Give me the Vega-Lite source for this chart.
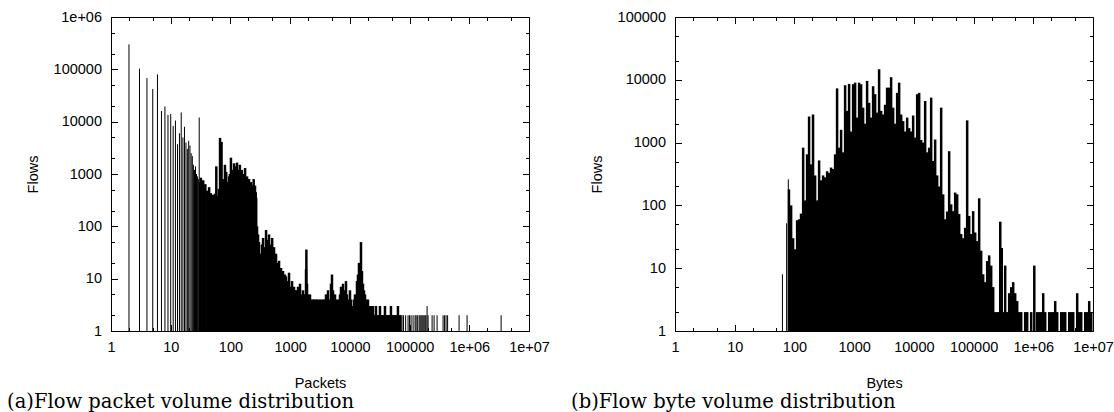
{
  "$schema": "https://vega.github.io/schema/vega-lite/v6.json",
  "background": "white",
  "padding": {"left": 6, "top": 8, "right": 0, "bottom": 0},
  "spacing": 20,
  "config": {
    "view": {"stroke": "black", "strokeWidth": 1},
    "axis": {
      "labelFont": "Liberation Sans", "labelFontSize": 14.5, "labelColor": "black",
      "titleFont": "Liberation Sans", "titleFontSize": 14.5, "titleFontWeight": "normal", "titleColor": "black",
      "tickColor": "black", "domainColor": "black", "grid": false,
      "labelFlush": false, "labelOverlap": false, "labelBound": false
    },
    "title": {"font": "DejaVu Serif", "fontSize": 19.5, "fontWeight": "normal", "color": "black"}
  },
  "datasets": {
    "pkts": [
      {"x":2,"y":300000},{"x":3,"y":103000},{"x":4,"y":68000},{"x":5,"y":42000},{"x":6,"y":80000},{"x":7,"y":16000},{"x":8,"y":19500},{"x":9,"y":13500},{"x":10,"y":14000},{"x":11,"y":8300},{"x":12,"y":10500},{"x":13,"y":3700},{"x":14,"y":6000},{"x":15,"y":15000},{"x":16,"y":5000},{"x":17,"y":8000},{"x":18,"y":4000},{"x":19,"y":3000},{"x":20,"y":4300},{"x":21,"y":3500},{"x":22,"y":2500},{"x":23,"y":2200},{"x":24,"y":1500},{"x":25,"y":1200},{"x":26,"y":1400},{"x":27,"y":1000},{"x":28,"y":900},{"x":29,"y":800},{"x":30,"y":12000},
      {"x":31,"y":700},{"x":32,"y":850},{"x":34,"y":600},{"x":35,"y":760},{"x":37,"y":520},{"x":38,"y":640},{"x":41,"y":480},{"x":44,"y":560},{"x":47,"y":430},{"x":51,"y":400},{"x":55,"y":420},{"x":58,"y":1400},{"x":60,"y":380},{"x":64,"y":520},{"x":67,"y":4900},{"x":69,"y":650},{"x":71,"y":4100},{"x":75,"y":800},{"x":78,"y":550},{"x":81,"y":1500},{"x":85,"y":1100},{"x":88,"y":650},{"x":91,"y":700},{"x":95,"y":900},{"x":98,"y":1000},
      {"x":102,"y":2050},{"x":106,"y":1200},{"x":110,"y":800},{"x":115,"y":1600},{"x":120,"y":1400},{"x":125,"y":1000},{"x":129,"y":1650},{"x":135,"y":1200},{"x":139,"y":900},{"x":144,"y":1500},{"x":150,"y":1100},{"x":155,"y":1200},{"x":162,"y":800},{"x":165,"y":1000},{"x":170,"y":700},{"x":176,"y":1300},{"x":183,"y":800},{"x":190,"y":900},{"x":197,"y":650},{"x":205,"y":800},{"x":212,"y":600},{"x":221,"y":700},{"x":230,"y":550},{"x":239,"y":600},{"x":245,"y":800},{"x":252,"y":500},{"x":258,"y":600},{"x":265,"y":450},{"x":270,"y":350},{"x":279,"y":100},{"x":290,"y":70},
      {"x":301,"y":50},{"x":312,"y":30},{"x":326,"y":25},{"x":338,"y":45},{"x":352,"y":60},{"x":365,"y":35},{"x":380,"y":40},{"x":395,"y":85},{"x":410,"y":40},{"x":425,"y":55},{"x":443,"y":70},{"x":460,"y":35},{"x":479,"y":45},{"x":500,"y":60},{"x":517,"y":30},{"x":538,"y":40},{"x":559,"y":25},{"x":580,"y":30},{"x":603,"y":20},{"x":626,"y":18},{"x":652,"y":22},{"x":677,"y":15},{"x":704,"y":16},{"x":731,"y":13},{"x":760,"y":14},{"x":790,"y":10},{"x":821,"y":12},{"x":852,"y":11},{"x":887,"y":8},{"x":920,"y":9},{"x":958,"y":13},{"x":995,"y":7},
      {"x":1035,"y":7},{"x":1075,"y":9},{"x":1117,"y":6},{"x":1160,"y":7},{"x":1207,"y":6},{"x":1254,"y":6},{"x":1304,"y":5},{"x":1355,"y":7},{"x":1408,"y":5},{"x":1463,"y":8},{"x":1521,"y":5},{"x":1580,"y":4},{"x":1643,"y":6},{"x":1708,"y":5},{"x":1775,"y":5},{"x":1845,"y":15},{"x":1870,"y":36},{"x":1917,"y":8},{"x":1992,"y":5},{"x":2070,"y":4},{"x":2150,"y":5},{"x":2236,"y":4},{"x":2324,"y":3},{"x":2415,"y":4},{"x":2510,"y":4},{"x":2609,"y":3},{"x":2711,"y":4},{"x":2818,"y":4},{"x":2929,"y":3},{"x":3043,"y":4},{"x":3163,"y":3},{"x":3287,"y":4},{"x":3416,"y":3},{"x":3551,"y":4},{"x":3690,"y":4},{"x":3835,"y":3},{"x":3985,"y":5},{"x":4142,"y":4},{"x":4305,"y":6},{"x":4474,"y":3},{"x":4650,"y":4},{"x":4833,"y":8},{"x":5020,"y":12},{"x":5220,"y":6},{"x":5425,"y":4},{"x":5638,"y":5},{"x":5860,"y":4},{"x":6090,"y":3},{"x":6330,"y":4},{"x":6578,"y":3},{"x":6836,"y":5},{"x":7105,"y":7},{"x":7385,"y":5},{"x":7674,"y":8},{"x":7975,"y":4},{"x":8289,"y":6},{"x":8615,"y":9},{"x":8953,"y":5},{"x":9305,"y":3},{"x":9671,"y":4},
      {"x":10050,"y":6},{"x":10446,"y":4},{"x":10856,"y":3},{"x":11283,"y":3},{"x":11727,"y":4},{"x":12187,"y":5},{"x":12666,"y":4},{"x":13163,"y":9},{"x":13680,"y":12},{"x":14218,"y":20},{"x":14777,"y":15},{"x":15357,"y":50},{"x":15960,"y":14},{"x":16587,"y":8},{"x":17239,"y":6},{"x":17916,"y":5},{"x":18620,"y":4},{"x":19351,"y":3},{"x":20111,"y":4},{"x":20902,"y":3},{"x":21723,"y":2},{"x":22576,"y":3},{"x":23463,"y":2},{"x":24385,"y":3},{"x":25343,"y":2},{"x":26339,"y":2},{"x":27374,"y":3},{"x":28449,"y":2},{"x":29566,"y":2},{"x":30728,"y":2},{"x":31935,"y":3},{"x":33190,"y":2},{"x":34494,"y":2},{"x":35849,"y":2},{"x":37257,"y":2},{"x":38721,"y":3},{"x":40242,"y":2},{"x":41823,"y":2},{"x":43466,"y":2},{"x":45174,"y":2},{"x":46948,"y":2},{"x":48793,"y":3},{"x":50710,"y":2},{"x":52702,"y":2},{"x":54772,"y":2},{"x":56924,"y":2},{"x":59160,"y":2},{"x":61485,"y":2},{"x":63900,"y":3},{"x":66411,"y":2},{"x":69000,"y":2},
      {"x":71900,"y":2},{"x":74700,"y":2},{"x":79000,"y":2},{"x":86000,"y":2},{"x":94400,"y":2},{"x":100000,"y":2},{"x":106000,"y":2},{"x":114500,"y":2},{"x":123700,"y":2},{"x":128500,"y":2},{"x":135000,"y":2},{"x":144300,"y":2},{"x":150000,"y":2},{"x":155900,"y":2},{"x":162000,"y":2},{"x":168400,"y":2},{"x":175000,"y":2},{"x":181900,"y":2},{"x":188000,"y":2},{"x":196500,"y":3},{"x":204200,"y":2},{"x":238400,"y":2},{"x":257500,"y":2},{"x":289000,"y":2},{"x":364000,"y":2},{"x":385600,"y":2},{"x":408600,"y":2},{"x":433400,"y":2},{"x":674800,"y":2},{"x":918000,"y":2},{"x":3412000,"y":2}
    ],
    "bytes": [
      {"x":63,"y":8},{"x":74,"y":52},{"x":79,"y":260},
      {"x":81,"y":180},{"x":88,"y":100},{"x":95,"y":30},{"x":103,"y":20},{"x":111,"y":58},{"x":120,"y":60},{"x":129,"y":74},{"x":140,"y":830},{"x":151,"y":120},{"x":163,"y":650},{"x":176,"y":2600},{"x":190,"y":450},{"x":205,"y":2800},{"x":222,"y":300},{"x":240,"y":120},{"x":259,"y":520},{"x":280,"y":250},{"x":302,"y":300},{"x":326,"y":280},{"x":353,"y":350},{"x":381,"y":330},{"x":411,"y":400},{"x":444,"y":380},{"x":480,"y":650},{"x":518,"y":7300},{"x":560,"y":830},{"x":605,"y":1600},{"x":653,"y":700},{"x":706,"y":8200},{"x":762,"y":3200},{"x":823,"y":8600},{"x":889,"y":1500},{"x":961,"y":8500},
      {"x":1038,"y":9000},{"x":1121,"y":2500},{"x":1211,"y":9000},{"x":1308,"y":8500},{"x":1413,"y":3600},{"x":1526,"y":2000},{"x":1649,"y":9600},{"x":1781,"y":4300},{"x":1924,"y":2500},{"x":2078,"y":7900},{"x":2245,"y":5900},{"x":2425,"y":3000},{"x":2619,"y":14700},{"x":2829,"y":3200},{"x":3056,"y":2800},{"x":3301,"y":4000},{"x":3566,"y":7500},{"x":3852,"y":7500},{"x":4161,"y":11000},{"x":4495,"y":3600},{"x":4855,"y":2000},{"x":5250,"y":6200},{"x":5670,"y":9000},{"x":6125,"y":2800},{"x":6616,"y":2200},{"x":7147,"y":1500},{"x":7720,"y":2500},{"x":8340,"y":1700},{"x":9009,"y":1500},{"x":9731,"y":2700},
      {"x":10512,"y":1200},{"x":11360,"y":5900},{"x":12270,"y":6200},{"x":13250,"y":1100},{"x":14320,"y":1000},{"x":15460,"y":4600},{"x":16700,"y":700},{"x":18040,"y":830},{"x":19490,"y":5200},{"x":21050,"y":510},{"x":22740,"y":1120},{"x":24560,"y":300},{"x":26530,"y":200},{"x":28660,"y":3600},{"x":30960,"y":150},{"x":33440,"y":60},{"x":36120,"y":80},{"x":39020,"y":730},{"x":42150,"y":104},{"x":45530,"y":81},{"x":49180,"y":160},{"x":53130,"y":150},{"x":57390,"y":73},{"x":62000,"y":35},{"x":66970,"y":30},{"x":72340,"y":44},{"x":78140,"y":2260},{"x":84400,"y":68},{"x":91170,"y":35},{"x":98480,"y":81},
      {"x":106380,"y":37},{"x":114900,"y":27},{"x":124100,"y":130},{"x":134100,"y":19},{"x":144800,"y":8},{"x":156400,"y":6},{"x":169000,"y":13},{"x":182500,"y":16},{"x":197200,"y":11},{"x":213000,"y":5},{"x":230100,"y":2},{"x":248600,"y":2},{"x":268500,"y":2},{"x":280000,"y":55},{"x":296500,"y":21},{"x":313300,"y":2},{"x":338400,"y":11},{"x":365500,"y":2},{"x":394900,"y":4},{"x":426500,"y":5},{"x":460700,"y":6},{"x":497700,"y":4},{"x":537600,"y":3},{"x":580700,"y":2},{"x":627300,"y":2},{"x":732000,"y":2},{"x":790700,"y":2},{"x":922600,"y":2},
      {"x":1040000,"y":11},{"x":1162800,"y":2},{"x":1256100,"y":2},{"x":1356800,"y":2},{"x":1465600,"y":4},{"x":1583100,"y":2},{"x":1847200,"y":2},{"x":1995300,"y":2},{"x":2155300,"y":2},{"x":2328200,"y":3},{"x":2514900,"y":2},{"x":2934400,"y":2},{"x":3169700,"y":2},{"x":3424000,"y":2},{"x":3995100,"y":2},{"x":4315400,"y":2},{"x":4661500,"y":2},{"x":5439000,"y":4},{"x":5875200,"y":2},{"x":6346400,"y":2},{"x":7405000,"y":2},{"x":7999000,"y":2},{"x":8640000,"y":3},{"x":9333000,"y":2}
    ]
  },
  "hconcat": [
    {
      "width": 418, "height": 314,
      "data": {"name": "pkts"},
      "title": {"text": "(a)Flow packet volume distribution", "orient": "bottom", "anchor": "start", "frame": "bounds", "offset": 3, "dx": -18},
      "layer": [
        {
          "transform": [{"filter": "datum.x <= 30 || datum.x > 70000"}],
          "mark": {"type": "rule", "color": "black", "strokeWidth": 1},
          "encoding": {
            "x": {"field": "x", "type": "quantitative", "scale": {"type": "log", "domain": [1, 10000000], "nice": false},
                  "axis": {"orient": "bottom", "title": "Packets", "titlePadding": 19,
                           "values": [1,2,5,10,20,50,100,200,500,1000,2000,5000,10000,20000,50000,100000,200000,500000,1000000,2000000,5000000,10000000],
                           "labelExpr": "abs(log(datum.value)/LN10 - round(log(datum.value)/LN10)) < 0.001 ? (datum.value >= 1000000 ? '1e+0' + round(log(datum.value)/LN10) : '' + round(datum.value)) : ''",
                           "labelPadding": 16,
                           "tickSize": {"condition": {"test": "abs(log(datum.value)/LN10 - round(log(datum.value)/LN10)) < 0.001", "value": -6.5}, "value": -3.5}}},
            "y": {"field": "y", "type": "quantitative", "scale": {"type": "log", "domain": [1, 1000000], "nice": false},
                  "axis": {"orient": "left", "title": "Flows", "titlePadding": 13,
                           "values": [1,2,5,10,20,50,100,200,500,1000,2000,5000,10000,20000,50000,100000,200000,500000,1000000],
                           "labelExpr": "abs(log(datum.value)/LN10 - round(log(datum.value)/LN10)) < 0.001 ? (datum.value >= 1000000 ? '1e+0' + round(log(datum.value)/LN10) : '' + round(datum.value)) : ''",
                           "labelPadding": 16,
                           "tickSize": {"condition": {"test": "abs(log(datum.value)/LN10 - round(log(datum.value)/LN10)) < 0.001", "value": -6.5}, "value": -3.5}}},
            "y2": {"datum": 1}
          }
        },
        {
          "transform": [{"filter": "datum.x > 30 && datum.x <= 70000"}],
          "mark": {"type": "rule", "color": "black", "strokeWidth": 2.5},
          "encoding": {
            "x": {"field": "x", "type": "quantitative",
                  "axis": {"orient": "top", "title": null, "labels": false, "domain": false,
                           "values": [1,2,5,10,20,50,100,200,500,1000,2000,5000,10000,20000,50000,100000,200000,500000,1000000,2000000,5000000,10000000],
                           "tickSize": {"condition": {"test": "abs(log(datum.value)/LN10 - round(log(datum.value)/LN10)) < 0.001", "value": -6.5}, "value": -3.5}}},
            "y": {"field": "y", "type": "quantitative",
                  "axis": {"orient": "right", "title": null, "labels": false, "domain": false,
                           "values": [1,2,5,10,20,50,100,200,500,1000,2000,5000,10000,20000,50000,100000,200000,500000,1000000],
                           "tickSize": {"condition": {"test": "abs(log(datum.value)/LN10 - round(log(datum.value)/LN10)) < 0.001", "value": -6.5}, "value": -3.5}}},
            "y2": {"datum": 1}
          }
        }
      ],
      "resolve": {"axis": {"x": "independent", "y": "independent"}}
    },
    {
      "width": 418, "height": 314,
      "data": {"name": "bytes"},
      "title": {"text": "(b)Flow byte volume distribution", "orient": "bottom", "anchor": "start", "frame": "bounds", "offset": 3, "dx": -18},
      "layer": [
        {
          "transform": [{"filter": "datum.x < 80"}],
          "mark": {"type": "rule", "color": "black", "strokeWidth": 1},
          "encoding": {
            "x": {"field": "x", "type": "quantitative", "scale": {"type": "log", "domain": [1, 10000000], "nice": false},
                  "axis": {"orient": "bottom", "title": "Bytes", "titlePadding": 19,
                           "values": [1,2,5,10,20,50,100,200,500,1000,2000,5000,10000,20000,50000,100000,200000,500000,1000000,2000000,5000000,10000000],
                           "labelExpr": "abs(log(datum.value)/LN10 - round(log(datum.value)/LN10)) < 0.001 ? (datum.value >= 1000000 ? '1e+0' + round(log(datum.value)/LN10) : '' + round(datum.value)) : ''",
                           "labelPadding": 16,
                           "tickSize": {"condition": {"test": "abs(log(datum.value)/LN10 - round(log(datum.value)/LN10)) < 0.001", "value": -6.5}, "value": -3.5}}},
            "y": {"field": "y", "type": "quantitative", "scale": {"type": "log", "domain": [1, 100000], "nice": false},
                  "axis": {"orient": "left", "title": "Flows", "titlePadding": 13,
                           "values": [1,2,5,10,20,50,100,200,500,1000,2000,5000,10000,20000,50000,100000],
                           "labelExpr": "abs(log(datum.value)/LN10 - round(log(datum.value)/LN10)) < 0.001 ? '' + round(datum.value) : ''",
                           "labelPadding": 16,
                           "tickSize": {"condition": {"test": "abs(log(datum.value)/LN10 - round(log(datum.value)/LN10)) < 0.001", "value": -6.5}, "value": -3.5}}},
            "y2": {"datum": 1}
          }
        },
        {
          "transform": [{"filter": "datum.x >= 80"}],
          "mark": {"type": "rule", "color": "black", "strokeWidth": 2.5},
          "encoding": {
            "x": {"field": "x", "type": "quantitative",
                  "axis": {"orient": "top", "title": null, "labels": false, "domain": false,
                           "values": [1,2,5,10,20,50,100,200,500,1000,2000,5000,10000,20000,50000,100000,200000,500000,1000000,2000000,5000000,10000000],
                           "tickSize": {"condition": {"test": "abs(log(datum.value)/LN10 - round(log(datum.value)/LN10)) < 0.001", "value": -6.5}, "value": -3.5}}},
            "y": {"field": "y", "type": "quantitative",
                  "axis": {"orient": "right", "title": null, "labels": false, "domain": false,
                           "values": [1,2,5,10,20,50,100,200,500,1000,2000,5000,10000,20000,50000,100000],
                           "tickSize": {"condition": {"test": "abs(log(datum.value)/LN10 - round(log(datum.value)/LN10)) < 0.001", "value": -6.5}, "value": -3.5}}},
            "y2": {"datum": 1}
          }
        }
      ],
      "resolve": {"axis": {"x": "independent", "y": "independent"}}
    }
  ]
}
